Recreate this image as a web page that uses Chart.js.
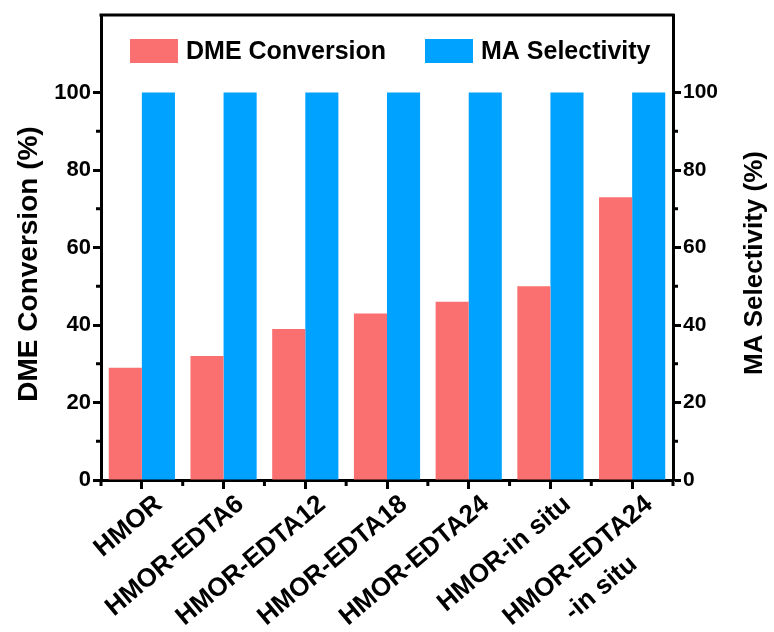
<!DOCTYPE html>
<html>
<head>
<meta charset="utf-8">
<script src="https://cdn.jsdelivr.net/npm/chart.js@4.4.1/dist/chart.umd.min.js"></script>
<style>
  html, body { margin: 0; padding: 0; background: #ffffff; }
  #wrap { width: 774px; height: 632px; }
</style>
</head>
<body>
<div id="wrap"><canvas id="chart" width="774" height="632"></canvas></div>
<script>
// Catalyst samples (multi-line where the name wraps)
const categories = [
  ['HMOR'],
  ['HMOR-EDTA6'],
  ['HMOR-EDTA12'],
  ['HMOR-EDTA18'],
  ['HMOR-EDTA24'],
  ['HMOR-in situ'],
  ['HMOR-EDTA24', '-in situ']
];
const dmeConversion = [29, 32, 39, 43, 46, 50, 73];
const maSelectivity = [100, 100, 100, 100, 100, 100, 100];
const majorTicks = [0, 20, 40, 60, 80, 100];
const minorTicks = [10, 30, 50, 70, 90];

const FONT = "'Liberation Sans', Arial, Helvetica, sans-serif";
const RED = '#FA6F6F';
const BLUE = '#00A2FF';

// Outward minor ticks, top frame, legend, rotated category labels and axis titles
const decorations = {
  id: 'decorations',
  afterDraw(chart) {
    const { ctx, chartArea: a } = chart;
    const yl = chart.scales.y, yr = chart.scales.y1, x = chart.scales.x;
    ctx.save();
    ctx.strokeStyle = '#000';
    ctx.lineWidth = 3;
    const line = (x1, y1, x2, y2) => { ctx.beginPath(); ctx.moveTo(x1, y1); ctx.lineTo(x2, y2); ctx.stroke(); };
    minorTicks.forEach(v => {
      const pl = yl.getPixelForValue(v);
      line(a.left, pl, a.left - 5, pl);
      const pr = yr.getPixelForValue(v);
      line(a.right, pr, a.right + 5, pr);
    });
    for (let i = 0; i <= categories.length; i++) {
      const px = x.getPixelForValue(i - 0.5);
      line(px, a.bottom, px, a.bottom + 6);
    }
    line(a.left - 1.5, a.top, a.right + 1.5, a.top);

    // legend
    ctx.font = 'bold 25px ' + FONT;
    ctx.textAlign = 'left';
    ctx.textBaseline = 'middle';
    const legendStarts = [130, 425];
    chart.data.datasets.forEach((ds, i) => {
      const lx = legendStarts[i], ly = a.top + 24;
      ctx.fillStyle = ds.backgroundColor;
      ctx.fillRect(lx, ly, 48, 24);
      ctx.fillStyle = '#000';
      ctx.fillText(ds.label, lx + 56, ly + 13);
    });

    // category labels
    ctx.fillStyle = '#000';
    ctx.font = 'bold 26px ' + FONT;
    ctx.textBaseline = 'middle';
    const ang = -40 * Math.PI / 180;
    categories.forEach((lines, i) => {
      const px = x.getPixelForTick(i);
      ctx.save();
      ctx.translate(px + 17, a.bottom + 21);
      ctx.rotate(ang);
      ctx.textAlign = 'right';
      ctx.fillText(lines[0], 0, 0);
      if (lines.length > 1) {
        const w1 = ctx.measureText(lines[0]).width;
        ctx.textAlign = 'center';
        ctx.fillText(lines[1], -w1 / 2, 36);
      }
      ctx.restore();
    });

    // axis titles
    ctx.textAlign = 'center';
    ctx.textBaseline = 'middle';
    ctx.save();
    ctx.font = 'bold 28px ' + FONT;
    ctx.translate(29, 264);
    ctx.rotate(-Math.PI / 2);
    ctx.fillText('DME Conversion (%)', 0, 0);
    ctx.restore();
    ctx.save();
    ctx.font = 'bold 26px ' + FONT;
    ctx.translate(755, 263);
    ctx.rotate(-Math.PI / 2);
    ctx.fillText('MA Selectivity (%)', 0, 0);
    ctx.restore();
    ctx.restore();
  }
};

const yAxis = (position, width, fontSize) => ({
  type: 'linear',
  position: position,
  min: 0,
  max: 120,
  afterBuildTicks(scale) { scale.ticks = majorTicks.map(v => ({ value: v })); },
  afterFit(scale) { scale.width = width; scale.paddingTop = 0; scale.paddingBottom = 0; },
  border: { display: true, color: '#000', width: 3 },
  grid: { drawOnChartArea: false, drawTicks: true, tickLength: 8, tickWidth: 3, tickColor: '#000' },
  ticks: {
    color: '#000',
    padding: 2,
    font: { family: FONT, size: fontSize, weight: 'bold' }
  }
});

new Chart(document.getElementById('chart'), {
  type: 'bar',
  data: {
    labels: categories,
    datasets: [
      { label: 'DME Conversion', data: dmeConversion, backgroundColor: RED, yAxisID: 'y' },
      { label: 'MA Selectivity', data: maSelectivity, backgroundColor: BLUE, yAxisID: 'y1' }
    ]
  },
  options: {
    responsive: false,
    animation: false,
    layout: { padding: { top: 15, left: 0, right: 0, bottom: 0 } },
    datasets: { bar: { categoryPercentage: 0.81, barPercentage: 1.0 } },
    plugins: {
      legend: { display: false },
      tooltip: { enabled: false }
    },
    scales: {
      x: {
        type: 'category',
        afterFit(scale) { scale.height = 152; scale.paddingLeft = 0; scale.paddingRight = 0; },
        border: { display: true, color: '#000', width: 3 },
        grid: { offset: false, drawOnChartArea: false, drawTicks: true, tickLength: 9, tickWidth: 3, tickColor: '#000' },
        ticks: { display: false }
      },
      y: yAxis('left', 101, 22),
      y1: yAxis('right', 101, 21)
    }
  },
  plugins: [decorations]
});
</script>
</body>
</html>
